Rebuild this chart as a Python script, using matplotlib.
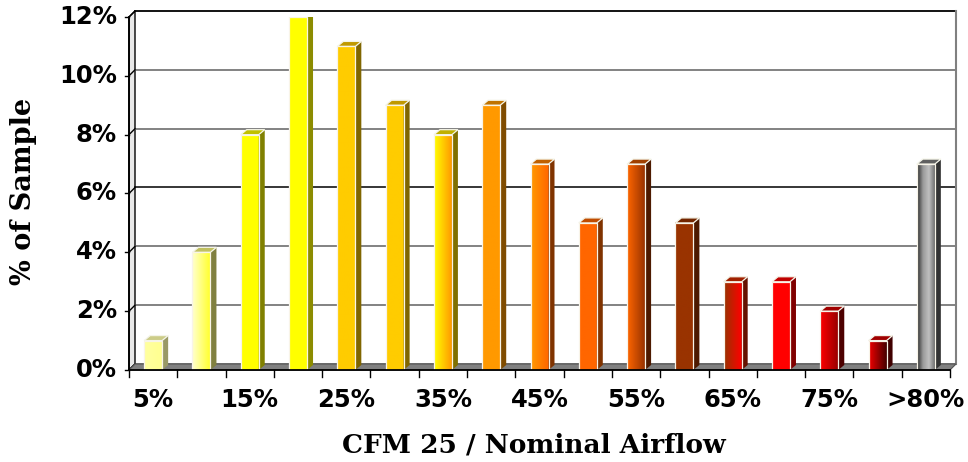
import matplotlib
matplotlib.use("Agg")
import matplotlib.pyplot as plt
import numpy as np
from matplotlib.patches import Polygon, Rectangle
from matplotlib.colors import to_rgb

# airflow ratio bins and share of sample (%)
categories = ['5%', '10%', '15%', '20%', '25%', '30%', '35%', '40%', '45%',
              '50%', '55%', '60%', '65%', '70%', '75%', '80%', '>80%']
pct_sample = [1, 4, 8, 12, 11, 9, 8, 9, 7, 5, 7, 5, 3, 3, 2, 1, 7]
shown_labels = ['5%', '15%', '25%', '35%', '45%', '55%', '65%', '75%', '>80%']
y_ticks = [0, 2, 4, 6, 8, 10, 12]

# front face gradient stops (left -> right), side and top shades
face_stops = [
    ['#FFFFA0', '#FFFF90'],
    ['#FFFFD0', '#FFFF30'],
    ['#FFFF00', '#FFFF00'],
    ['#FFFF00', '#FFFF00'],
    ['#FFCC00', '#FFCC00'],
    ['#FFCC00', '#FFCC00'],
    ['#FFFF00', '#FF9900'],
    ['#FF9900', '#FF9900'],
    ['#FF9900', '#FF6600'],
    ['#FF6600', '#FF6600'],
    ['#FF6600', '#993300'],
    ['#993300', '#993300'],
    ['#993300', '#FF0000'],
    ['#FF0000', '#FF0000'],
    ['#FF0000', '#990000'],
    ['#EE0000', '#440000'],
    ['#2A2A2A', '#9A9A9A', '#C0C0C0', '#707070'],
]
side_cols = ['#999966', '#808040', '#808000', '#8C8C00', '#806600', '#806600',
             '#807000', '#804C00', '#803300', '#803300', '#4D1A00', '#4D1A00',
             '#661100', '#800000', '#4D0000', '#400000', '#333333']
top_cols = ['#CCCC88', '#C0C060', '#C0C000', '#CCCC00', '#C09900', '#C09900',
            '#C0B000', '#C07300', '#C06000', '#C04C00', '#A04000', '#732600',
            '#A02000', '#C00000', '#A00000', '#A00000', '#606060']

W, H = 968, 462
fig = plt.figure(figsize=(W / 100, H / 100), dpi=100)
L, R, B, T = 129, 950, 370, 17
ax = fig.add_axes([L / W, 1 - B / H, (R - L) / W, (B - T) / H])
n = len(pct_sample)
ymax = 12
ax.set_xlim(0, n)
ax.set_ylim(0, ymax)
ax.axis('off')

ux = (R - L) / n      # pixels per category
uy = (B - T) / ymax   # pixels per percent
dx, dy = 6 / ux, 6 / uy      # wall depth
bdx, bdy = 6 / ux, 5 / uy    # bar depth
bw = 18 / ux

# left wall
ax.add_patch(Polygon([(0, 0), (0, ymax), (dx, ymax + dy), (dx, dy)], closed=True,
                     facecolor='#E8E8E8', edgecolor='black', lw=1, clip_on=False, zorder=1))

# back wall gridlines
for v in y_ticks:
    col = 'black' if v in (6, 12) else '#606060'
    ax.plot([dx, n + dx], [v + dy, v + dy], color=col, lw=1.1 if v != 12 else 1.3,
            clip_on=False, zorder=1)
    ax.plot([0, dx], [v, v + dy], color='black', lw=1, clip_on=False, zorder=1)
    ax.plot([-4 / ux, 0], [v, v], color='black', lw=1, clip_on=False, zorder=1)
    ax.text(-12 / ux, v, '%d%%' % v, ha='right', va='center', fontsize=17.5,
            fontweight='bold', family='DejaVu Sans')

# right edge of back wall
ax.plot([n + dx, n + dx], [dy, ymax + dy], color='#808080', lw=1.5, clip_on=False, zorder=1)

# floor
ax.add_patch(Polygon([(0, 0), (n, 0), (n + dx, dy), (dx, dy)], closed=True,
                     facecolor='#808080', edgecolor='#555555', lw=0.8, clip_on=False, zorder=2))

# bars
for i, v in enumerate(pct_sample):
    x0 = i + 0.5 - bw / 2
    x1 = x0 + bw
    stops = [np.array(to_rgb(c)) for c in face_stops[i]]
    pos = np.linspace(0, 1, len(stops))
    t = np.linspace(0, 1, 64)
    grad = np.stack([np.interp(t, pos, [s[k] for s in stops]) for k in range(3)], axis=-1)
    z = 3 + i * 0.01
    ax.imshow(grad[np.newaxis, :, :], extent=[x0, x1, 0, v], aspect='auto',
              interpolation='bilinear', zorder=z)
    ax.add_patch(Polygon([(x1, 0), (x1 + bdx, bdy), (x1 + bdx, v + bdy), (x1, v)],
                         closed=True, facecolor=side_cols[i], edgecolor='none', zorder=z))
    ax.add_patch(Polygon([(x0, v), (x1, v), (x1 + bdx, v + bdy), (x0 + bdx, v + bdy)],
                         closed=True, facecolor=top_cols[i], edgecolor='#F4F4E8',
                         lw=0.9, zorder=z + 0.001))
    ax.add_patch(Rectangle((x0, 0), bw, v, facecolor='none', edgecolor='#F8F4E8',
                           lw=0.9, zorder=z + 0.002))

ax.set_xlim(0, n)
ax.set_ylim(0, ymax)

# front axes
ax.plot([0, n], [0, 0], color='black', lw=1.3, clip_on=False, zorder=5)
ax.plot([0, 0], [0, ymax], color='black', lw=1.3, clip_on=False, zorder=5)
for k in range(n + 1):
    ax.plot([k, k], [0, -7 / uy], color='black', lw=1, clip_on=False, zorder=5)

for i, c in enumerate(categories):
    if c in shown_labels:
        ax.text(i + 0.5, -30 / uy, c, ha='center', va='center', fontsize=17.5,
                fontweight='bold', family='DejaVu Sans')

fig.text(534 / W, 1 - 445 / H, 'CFM 25 / Nominal Airflow', ha='center', va='center',
         fontsize=19, fontweight='bold', family='DejaVu Serif')
fig.text(24 / W, 1 - 191 / H, '% of Sample', ha='center', va='center', rotation=90,
         fontsize=19.5, fontweight='bold', family='DejaVu Serif')

fig.savefig('out.png', dpi=100)
